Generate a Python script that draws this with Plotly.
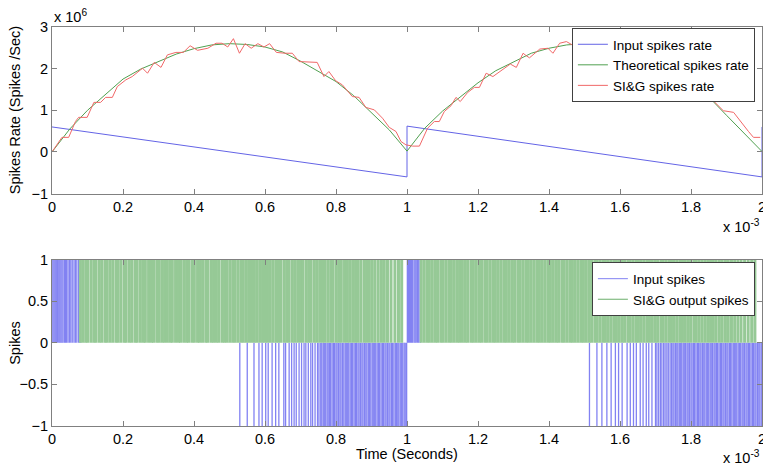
import plotly.graph_objects as go

# ---------------- Top panel data (time in units of 1e-3 s, rate in units of 1e6 spikes/s)
input_rate_t = [0.0, 1.0, 1.0, 2.0, 2.0]
input_rate_v = [0.60, -0.60, 0.62, -0.60, 0.60]

theo_t = [0.0, 0.05, 0.1, 0.15, 0.2, 0.25, 0.3, 0.35, 0.4, 0.45, 0.5, 0.55, 0.6, 0.65, 0.7,
          0.75, 0.8, 0.85, 0.9, 0.95, 1.0,
          1.05, 1.1, 1.15, 1.2, 1.25, 1.3, 1.35, 1.4, 1.45, 1.5, 1.55, 1.6, 1.65, 1.7,
          1.75, 1.8, 1.85, 1.9, 1.95, 2.0]
theo_v = [0.0, 0.55, 1.0, 1.37, 1.75, 1.99, 2.17, 2.35, 2.48, 2.57, 2.60, 2.58, 2.52, 2.40, 2.18,
          1.94, 1.69, 1.35, 0.95, 0.53, 0.02,
          0.57, 0.98, 1.33, 1.66, 1.95, 2.17, 2.37, 2.49, 2.57, 2.60, 2.58, 2.52, 2.40, 2.20,
          1.97, 1.70, 1.32, 0.88, 0.44, 0.01]

sig_t = [0.0, 0.028, 0.047, 0.066, 0.075, 0.099, 0.118, 0.137, 0.151, 0.170, 0.184, 0.208,
         0.226, 0.255, 0.269, 0.288, 0.307, 0.325, 0.349, 0.370, 0.389, 0.410, 0.439, 0.462,
         0.479, 0.495, 0.511, 0.528, 0.544, 0.561, 0.580, 0.597, 0.613, 0.632, 0.656, 0.677,
         0.696, 0.747, 0.766, 0.780, 0.799, 0.818, 0.846, 0.865, 0.884, 0.908, 0.931, 0.950,
         0.969, 0.983, 0.997,
         1.016, 1.035, 1.058, 1.077, 1.091, 1.105, 1.124, 1.138, 1.150, 1.171, 1.190, 1.204,
         1.223, 1.242, 1.270, 1.291, 1.308, 1.327, 1.336, 1.345, 1.374, 1.397, 1.411, 1.430,
         1.449, 1.47, 1.50, 1.53, 1.56, 1.59, 1.62, 1.65, 1.68, 1.71, 1.74, 1.77, 1.80, 1.82,
         1.844, 1.873, 1.891, 1.920, 1.939, 1.962, 1.976, 1.995]
sig_v = [0.0, 0.35, 0.35, 0.73, 0.83, 0.83, 1.19, 1.19, 1.31, 1.31, 1.57, 1.73,
         1.81, 2.01, 1.89, 2.15, 2.03, 2.33, 2.39, 2.39, 2.55, 2.44, 2.49, 2.61,
         2.61, 2.52, 2.72, 2.37, 2.60, 2.49, 2.60, 2.52, 2.60, 2.39, 2.37, 2.37,
         2.17, 2.15, 1.81, 1.93, 1.71, 1.61, 1.33, 1.31, 1.07, 1.01, 0.81, 0.59,
         0.49, 0.25, 0.17,
         0.14, 0.14, 0.57, 0.73, 0.73, 0.97, 1.11, 1.31, 1.21, 1.43, 1.55, 1.55,
         1.89, 1.81, 1.97, 2.11, 2.03, 2.37, 2.31, 2.26, 2.47, 2.49, 2.37, 2.61,
         2.65, 2.55, 2.62, 2.58, 2.66, 2.52, 2.55, 2.45, 2.38, 2.22, 2.08, 1.92, 1.72, 1.55,
         1.39, 1.13, 0.99, 0.95, 0.73, 0.49, 0.35, 0.35]

x_ticks = [0, 0.2, 0.4, 0.6, 0.8, 1, 1.2, 1.4, 1.6, 1.8, 2]
x_tick_text = ["0", "0.2", "0.4", "0.6", "0.8", "1", "1.2", "1.4", "1.6", "1.8", "2"]
top_y_ticks = [-1, 0, 1, 2, 3]
bot_y_ticks = [-1, -0.5, 0, 0.5, 1]

# ---------------- Bottom panel data: spike times in microseconds
input_spikes_up_us = [0, 3, 6, 9, 12, 15, 19, 22, 25, 28, 31, 35, 38, 41, 45, 49, 53, 57, 62, 66,
                      70, 75, 79,
                      1001, 1004, 1007, 1010, 1013, 1016, 1020, 1023, 1026, 1030, 1033, 1037]
input_spikes_down_us = [529, 550, 569, 583, 592, 602, 609, 620, 630, 639, 653, 658, 668, 675, 682,
                        688, 696, 703, 710, 715, 722, 729, 734, 741, 748, 752, 757, 760, 764, 767,
                        771, 775, 778, 782, 785, 789, 793, 796, 800, 803, 807, 811, 814, 818, 822,
                        826, 829, 833, 836, 840, 844, 847, 851, 855, 858, 862, 865, 869, 873, 876,
                        880, 884, 887, 891, 894, 898, 902, 905, 909, 912, 916, 920, 923, 927, 931,
                        934, 938, 941, 945, 949, 952, 956, 959, 963, 967, 970, 974, 977, 981, 985,
                        988, 992, 995, 999,
                        1514, 1535, 1549, 1563, 1575, 1587, 1596, 1606, 1620, 1629, 1638, 1646,
                        1657, 1665, 1674, 1681, 1690, 1700, 1704, 1709, 1714, 1718, 1723, 1727,
                        1732, 1736, 1741, 1745, 1749, 1752, 1756, 1760, 1763, 1767, 1771, 1774,
                        1778, 1781, 1785, 1789, 1792, 1796, 1800, 1803, 1807, 1810, 1814, 1818,
                        1821, 1825, 1828, 1832, 1836, 1839, 1843, 1847, 1850, 1854, 1857, 1861,
                        1865, 1868, 1872, 1875, 1879, 1883, 1886, 1890, 1893, 1897, 1901, 1904,
                        1908, 1911, 1915, 1919, 1922, 1926, 1929, 1933, 1937, 1940, 1944, 1947,
                        1951, 1955, 1958, 1962, 1965, 1969, 1973, 1976, 1980, 1983, 1987, 1991,
                        1994, 1998]
output_spikes_us = [80, 87, 95, 101, 110, 118, 124, 133, 140, 149, 155, 163, 171, 180, 186, 194,
                    203, 209, 218, 225, 234, 240, 249, 257, 263, 272, 280, 286, 295, 302, 310,
                    317, 325, 333, 339, 348, 356, 362, 371, 379, 385, 394, 401, 410, 416, 424,
                    433, 439, 448, 455, 463, 470, 479, 486, 493, 501, 509, 516, 524, 532, 539,
                    547, 554, 562, 570, 577, 585, 593, 600, 607, 615, 623, 631, 638, 645, 654,
                    661, 668, 677, 684, 692, 700, 707, 716, 723, 730, 739, 746, 754, 762, 769,
                    777, 785, 792, 801, 808, 815, 824, 832, 839, 847, 855, 862, 870, 879, 886,
                    894, 902, 910, 919, 928, 936, 945, 955, 966, 976, 985,
                    1040, 1048, 1056, 1063, 1071, 1079, 1086, 1095, 1102, 1110, 1118, 1125,
                    1133, 1141, 1148, 1156, 1164, 1171, 1180, 1187, 1195, 1203, 1210, 1219,
                    1226, 1234, 1242, 1249, 1257, 1265, 1273, 1280, 1288, 1296, 1303, 1312,
                    1319, 1327, 1335, 1342, 1350, 1358, 1366, 1373, 1381, 1389, 1397, 1404,
                    1412, 1420, 1427, 1436, 1443, 1451, 1459, 1466, 1474, 1482, 1490, 1497,
                    1505, 1513, 1520, 1529, 1536, 1544, 1552, 1559, 1567, 1575, 1583, 1590,
                    1598, 1606, 1613, 1622, 1629, 1637, 1645, 1652, 1660, 1668, 1676, 1683,
                    1691, 1699, 1706, 1715, 1722, 1730, 1738, 1745, 1753, 1761, 1769, 1776,
                    1784, 1792, 1799, 1808, 1815, 1823, 1831, 1839, 1847, 1855, 1863, 1871,
                    1880, 1888, 1897, 1905, 1914, 1923, 1932, 1941, 1951, 1961, 1971, 1980]


def spike_xy(times_us, level):
    xs, ys = [], []
    for t in times_us:
        xs += [t / 1000.0, t / 1000.0, None]
        ys += [0, level, None]
    return xs, ys


FONT = "Arial, Liberation Sans, Helvetica, sans-serif"
FS = 14.5

fig = go.Figure()

# Top panel
fig.add_trace(go.Scatter(x=input_rate_t, y=input_rate_v, mode="lines", name="Input spikes rate",
                         line=dict(color="#6464e6", width=1), xaxis="x", yaxis="y", legend="legend"))
fig.add_trace(go.Scatter(x=theo_t, y=theo_v, mode="lines", name="Theoretical spikes rate",
                         line=dict(color="#50a050", width=1), xaxis="x", yaxis="y", legend="legend"))
fig.add_trace(go.Scatter(x=sig_t, y=sig_v, mode="lines", name="SI&G spikes rate",
                         line=dict(color="#f06868", width=1), xaxis="x", yaxis="y", legend="legend"))

# Bottom panel
ux, uy = spike_xy(input_spikes_up_us, 1)
dx, dy = spike_xy(input_spikes_down_us, -1)
gx, gy = spike_xy(output_spikes_us, 1)
fig.add_trace(go.Scatter(x=ux + dx, y=uy + dy, mode="lines", name="Input spikes",
                         line=dict(color="#8282f2", width=1.3), xaxis="x2", yaxis="y2",
                         legend="legend2", legendgroup="in", showlegend=False))
fig.add_trace(go.Scatter(x=gx, y=gy, mode="lines", name="SI&G output spikes",
                         line=dict(color="#96c996", width=3), xaxis="x2", yaxis="y2",
                         legend="legend2", legendgroup="out", showlegend=False))
# thin-line legend keys for the two spike trains
fig.add_trace(go.Scatter(x=[None], y=[None], mode="lines", name="Input spikes",
                         line=dict(color="#8282f2", width=1), xaxis="x2", yaxis="y2",
                         legend="legend2", legendgroup="in"))
fig.add_trace(go.Scatter(x=[None], y=[None], mode="lines", name="SI&G output spikes",
                         line=dict(color="#6aae6a", width=1), xaxis="x2", yaxis="y2",
                         legend="legend2", legendgroup="out"))

axis_style = dict(showline=True, linecolor="#808080", linewidth=1, mirror="ticks",
                  ticks="inside", ticklen=5, tickcolor="#808080", showgrid=False,
                  zeroline=False, automargin=False,
                  tickfont=dict(size=FS, color="black", family=FONT))

# The page places the figure 8 px in from the top-left corner of the window,
# so the figure is 763x463 and its margins are set from that offset.
top_dom = [0.5825, 1.0]
bot_dom = [0.0, 0.417]

fig.update_layout(
    template="none",
    width=763, height=463,
    margin=dict(l=44, r=9, t=19, b=45, autoexpand=False),
    paper_bgcolor="white", plot_bgcolor="white",
    font=dict(family=FONT, size=FS, color="black"),
    xaxis=dict(domain=[0, 1], anchor="y", range=[0, 2], tickvals=x_ticks, ticktext=x_tick_text,
               **axis_style),
    yaxis=dict(domain=top_dom, anchor="x", range=[-1, 3], tickvals=top_y_ticks, **axis_style),
    xaxis2=dict(domain=[0, 1], anchor="y2", range=[0, 2], tickvals=x_ticks, ticktext=x_tick_text,
                **axis_style),
    yaxis2=dict(domain=bot_dom, anchor="x2", range=[-1, 1], tickvals=bot_y_ticks, **axis_style),
    legend=dict(x=0.99, xanchor="right", y=0.9975, yanchor="top", bgcolor="white",
                bordercolor="#404040", borderwidth=1, font=dict(size=13.5, family=FONT),
                tracegroupgap=0, itemwidth=30),
    legend2=dict(x=0.99, xanchor="right", y=0.41, yanchor="top", bgcolor="white",
                 bordercolor="#404040", borderwidth=1, font=dict(size=13.5, family=FONT),
                 tracegroupgap=0, itemwidth=30),
    showlegend=True,
    annotations=[
        dict(text="x 10<sup>6</sup>", xref="paper", yref="paper", x=0, y=1, xanchor="left",
             yanchor="bottom", showarrow=False, font=dict(size=FS)),
        dict(text="x 10<sup>-3</sup>", xref="paper", yref="paper", x=1, y=top_dom[0],
             xanchor="right", yanchor="top", yshift=-21, showarrow=False, font=dict(size=FS)),
        dict(text="x 10<sup>-3</sup>", xref="paper", yref="paper", x=1, y=0,
             xanchor="right", yanchor="top", yshift=-20, showarrow=False, font=dict(size=FS)),
        dict(text="Time (Seconds)", xref="paper", yref="paper", x=0.5, y=0, xanchor="center",
             yanchor="top", yshift=-18, showarrow=False, font=dict(size=FS)),
        dict(text="Spikes Rate (Spikes /Sec)", xref="paper", yref="paper", x=0,
             y=(top_dom[0] + top_dom[1]) / 2, xanchor="center", yanchor="middle", xshift=-37,
             textangle=-90, showarrow=False, font=dict(size=FS)),
        dict(text="Spikes", xref="paper", yref="paper", x=0,
             y=(bot_dom[0] + bot_dom[1]) / 2, xanchor="center", yanchor="middle", xshift=-37,
             textangle=-90, showarrow=False, font=dict(size=FS)),
    ],
)

fig.write_html("out.html")
